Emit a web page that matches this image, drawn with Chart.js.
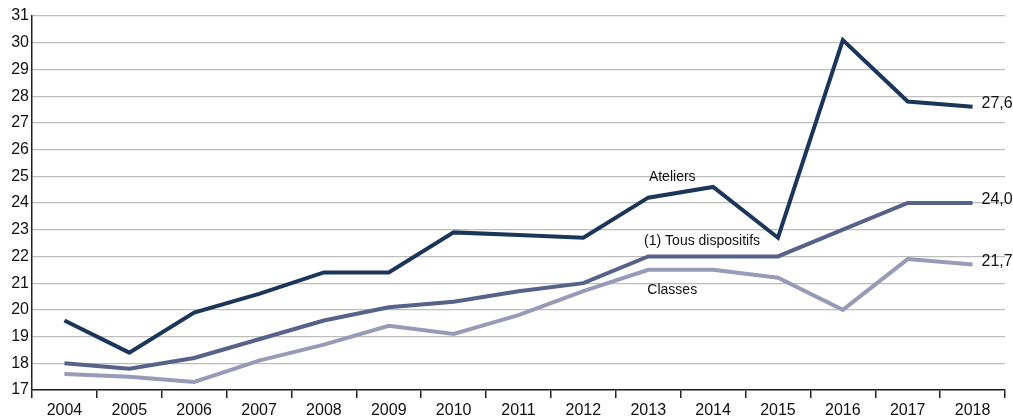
<!DOCTYPE html>
<html>
<head>
<meta charset="utf-8">
<script src="https://cdn.jsdelivr.net/npm/chart.js@4/dist/chart.umd.min.js"></script>
<style>
  html, body { margin: 0; padding: 0; background: #fff; }
  #wrap { width: 1013px; height: 418px; position: relative; }
</style>
</head>
<body>
<div id="wrap"><canvas id="lineChart"></canvas></div>
<script>
// données
const years = ['2004', '2005', '2006', '2007', '2008', '2009', '2010', '2011', '2012', '2013', '2014', '2015', '2016', '2017', '2018'];
const ateliers = [19.6, 18.4, 19.9, 20.6, 21.4, 21.4, 22.9, 22.8, 22.7, 24.2, 24.6, 22.7, 30.1, 27.8, 27.6];
const tousDispositifs = [18.0, 17.8, 18.2, 18.9, 19.6, 20.1, 20.3, 20.7, 21.0, 22.0, 22.0, 22.0, 23.0, 24.0, 24.0];
const classes = [17.6, 17.5, 17.3, 18.1, 18.7, 19.4, 19.1, 19.8, 20.7, 21.5, 21.5, 21.2, 20.0, 21.9, 21.7];
const endLabels = ['27,6', '24,0', '21,7'];

const FONT = "'Liberation Sans', Arial, sans-serif";

// étiquettes des séries dans le graphique + valeurs en bout de ligne
const labelPlugin = {
    id: 'seriesLabels',
    afterDatasetsDraw(chart) {
        const ctx = chart.ctx;
        const x = chart.scales.x, y = chart.scales.y;
        ctx.save();
        ctx.fillStyle = '#111';
        ctx.font = '14px ' + FONT;
        ctx.textAlign = 'center';
        ctx.textBaseline = 'middle';
        ctx.fillText('Ateliers', x.getPixelForValue(9.37), y.getPixelForValue(24.95));
        ctx.fillText('(1) Tous dispositifs', x.getPixelForValue(9.83), y.getPixelForValue(22.58));
        ctx.fillText('Classes', x.getPixelForValue(9.37), y.getPixelForValue(20.72));

        ctx.font = '16px ' + FONT;
        ctx.textAlign = 'left';
        chart.data.datasets.forEach((ds, i) => {
            const meta = chart.getDatasetMeta(i);
            const pt = meta.data[meta.data.length - 1];
            ctx.fillText(endLabels[i], pt.x + 9, pt.y - 3);
        });
        ctx.restore();
    }
};

const canvasElement = document.getElementById('lineChart');
new Chart(canvasElement.getContext('2d'), {
    type: 'line',
    data: {
        labels: years,
        datasets: [
            { label: 'Ateliers', data: ateliers, borderColor: '#1c365a', borderWidth: 4 },
            { label: '(1) Tous dispositifs', data: tousDispositifs, borderColor: '#56628a', borderWidth: 4 },
            { label: 'Classes', data: classes, borderColor: '#979bb7', borderWidth: 4 }
        ]
    },
    options: {
        responsive: true,
        maintainAspectRatio: false,
        animation: false,
        layout: { padding: { top: 16, right: 8, left: 0, bottom: 0 } },
        elements: {
            line: { tension: 0, borderJoinStyle: 'miter', borderCapStyle: 'butt' },
            point: { radius: 0, hoverRadius: 0 }
        },
        scales: {
            x: {
                offset: true,
                grid: { offset: true, drawOnChartArea: false, drawTicks: true, tickLength: 8, color: '#222', lineWidth: 1.5 },
                border: { color: '#222', width: 1.5 },
                ticks: { color: '#111', font: { family: FONT, size: 16 }, padding: 3, maxRotation: 0, autoSkip: false },
                afterFit(s) { s.height = 28; }
            },
            y: {
                min: 17,
                max: 31,
                grid: { color: '#bdbdbd', lineWidth: 1.2, drawTicks: false },
                border: { color: '#222', width: 1.5 },
                ticks: { stepSize: 1, color: '#111', font: { family: FONT, size: 16 }, padding: 3 },
                afterFit(s) { s.width = 32; }
            }
        },
        plugins: { legend: { display: false }, tooltip: { enabled: false } }
    },
    plugins: [labelPlugin]
});
</script>
</body>
</html>
